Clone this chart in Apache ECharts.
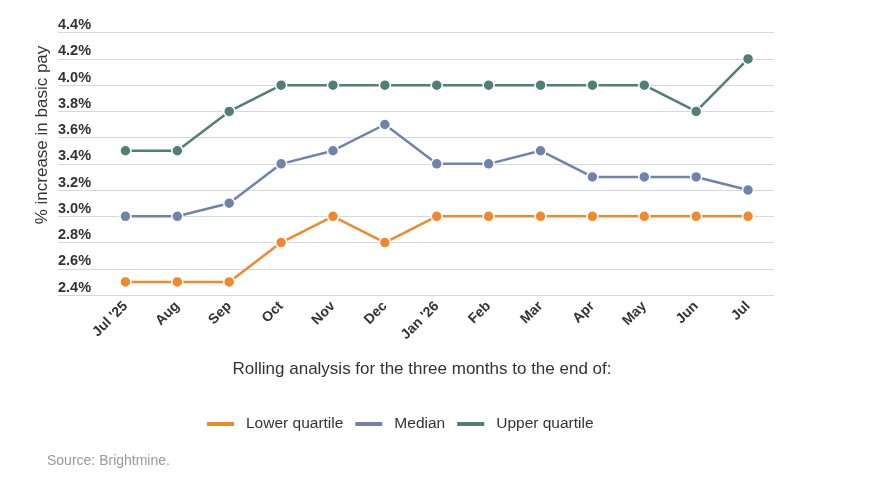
<!DOCTYPE html>
<html>
<head>
<meta charset="utf-8">
<script src="https://cdn.jsdelivr.net/npm/echarts@6/dist/echarts.min.js"></script>
<style>
  html, body { margin: 0; padding: 0; background: #fff; }
  #chart { width: 882px; height: 482px; }
</style>
</head>
<body>
<div id="chart"></div>
<script>
// months (rolling three months to the end of)
var categories = ["Jul '25", 'Aug', 'Sep', 'Oct', 'Nov', 'Dec', "Jan '26", 'Feb', 'Mar', 'Apr', 'May', 'Jun', 'Jul'];
var lowerQuartile = [2.5, 2.5, 2.5, 2.8, 3.0, 2.8, 3.0, 3.0, 3.0, 3.0, 3.0, 3.0, 3.0];
var median = [3.0, 3.0, 3.1, 3.4, 3.5, 3.7, 3.4, 3.4, 3.5, 3.3, 3.3, 3.3, 3.2];
var upperQuartile = [3.5, 3.5, 3.8, 4.0, 4.0, 4.0, 4.0, 4.0, 4.0, 4.0, 4.0, 3.8, 4.2];
var seriesNames = ['Lower quartile', 'Median', 'Upper quartile'];
var colors = ['#f0892e', '#7083aa', '#4f7f76'];

function pairs(arr) {
  return arr.map(function (v, i) { return [i, v]; });
}

var myChart = echarts.init(document.getElementById('chart'));

var font = 'Arial, "Liberation Sans", sans-serif';

function lineSeries(name, data, color) {
  return {
    name: name,
    type: 'line',
    data: pairs(data),
    symbol: 'circle',
    symbolSize: 11,
    lineStyle: { width: 2.5, color: color },
    itemStyle: { color: color, borderColor: '#fff', borderWidth: 1.5 },
    emphasis: { disabled: true }
  };
}

myChart.setOption({
  animation: false,
  color: colors,
  textStyle: { fontFamily: font },
  title: [
    {
      text: 'Rolling analysis for the three months to the end of:',
      left: 417,
      top: 356,
      textAlign: 'center',
      textStyle: { fontSize: 17, fontWeight: 'normal', color: '#333', fontFamily: font }
    },
    {
      text: 'Source: Brightmine.',
      left: 42,
      top: 449,
      textStyle: { fontSize: 14, fontWeight: 'normal', color: '#999', fontFamily: font }
    }
  ],
  graphic: [
    {
      type: 'text',
      x: 42,
      y: 135,
      rotation: Math.PI / 2,
      style: {
        text: '% increase in basic pay',
        font: '17px ' + font,
        fill: '#333',
        align: 'center',
        verticalAlign: 'middle'
      }
    }
  ],
  legend: {
    data: seriesNames,
    left: 202,
    top: 411,
    icon: 'rect',
    itemWidth: 27,
    itemHeight: 4,
    itemGap: 12,
    itemStyle: { borderWidth: 0 },
    textStyle: { fontSize: 15.5, color: '#333', padding: [0, 0, 0, 7], fontFamily: font }
  },
  grid: { left: 58, right: 108, top: 32.7, bottom: 187, containLabel: false },
  xAxis: {
    type: 'value',
    min: -1.3,
    max: 12.5,
    splitLine: { show: false },
    axisLine: { show: false },
    axisTick: { show: false },
    axisLabel: {
      customValues: categories.map(function (c, i) { return i; }),
      formatter: function (v) { return categories[v]; },
      rotate: 45,
      margin: 9,
      fontSize: 14,
      fontWeight: 'bold',
      color: '#333'
    }
  },
  yAxis: {
    type: 'value',
    min: 2.4,
    max: 4.4,
    interval: 0.2,
    axisLine: { show: false },
    axisTick: { show: false },
    splitLine: { lineStyle: { color: '#d6d6de', width: 1 } },
    axisLabel: {
      inside: true,
      margin: 0,
      align: 'left',
      verticalAlign: 'bottom',
      fontSize: 14.5,
      fontWeight: 'bold',
      color: '#333',
      formatter: function (v) { return v.toFixed(1) + '%'; }
    }
  },
  series: [
    lineSeries(seriesNames[0], lowerQuartile, colors[0]),
    lineSeries(seriesNames[1], median, colors[1]),
    lineSeries(seriesNames[2], upperQuartile, colors[2])
  ]
});
</script>
</body>
</html>
